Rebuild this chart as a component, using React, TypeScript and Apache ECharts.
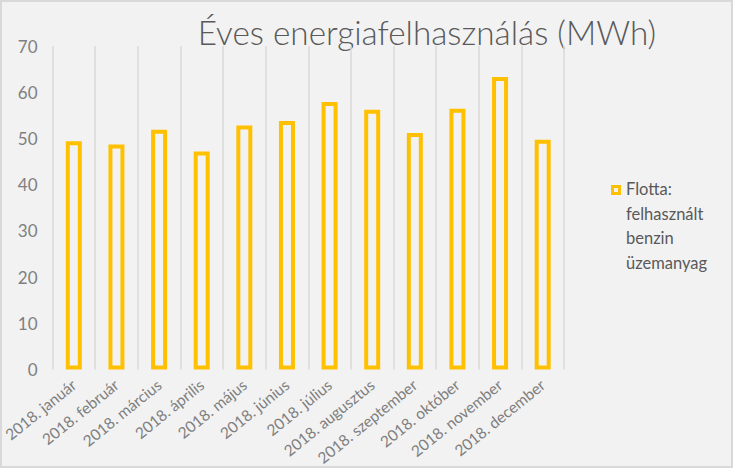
import React, { useEffect, useRef } from "react";
import * as echarts from "echarts";

const categories = [
  "2018. január",
  "2018. február",
  "2018. március",
  "2018. április",
  "2018. május",
  "2018. június",
  "2018. július",
  "2018. augusztus",
  "2018. szeptember",
  "2018. október",
  "2018. november",
  "2018. december",
];
const values = [49.4, 48.7, 51.9, 47.2, 52.8, 53.8, 57.9, 56.2, 51.2, 56.4, 63.3, 49.7];
const seriesName = "Flotta: felhasznált benzin üzemanyag";
const legendLines = ["Flotta:", "felhasznált", "benzin", "üzemanyag"];
const titleText = "Éves energiafelhasználás (MWh)";

export default function App() {
  const ref = useRef<HTMLDivElement>(null);
  useEffect(() => {
    if (!ref.current) return;
    const chart = echarts.init(ref.current, undefined, { renderer: "svg" });
    const gold = "#FFC000";
    chart.setOption({
      animation: false,
      backgroundColor: "#f2f2f2",
      textStyle: { fontFamily: "Lato" },
      grid: { left: 50, right: 169, top: 46, bottom: 97, containLabel: false },
      xAxis: {
        type: "category",
        data: categories,
        axisLine: { show: false },
        axisTick: { show: false },
        splitLine: { show: true, lineStyle: { color: "#d9d9d9", width: 1.5 } },
        axisLabel: {
          rotate: 39,
          interval: 0,
          margin: 13,
          color: "#7f7f7f",
          fontSize: 15.5,
          fontFamily: "Lato",
        },
      },
      yAxis: {
        type: "value",
        min: 0,
        max: 70,
        interval: 10,
        splitLine: { show: false },
        axisLine: { show: false },
        axisTick: { show: false },
        axisLabel: { color: "#7f7f7f", fontSize: 17, margin: 15, fontFamily: "Lato" },
      },
      series: [
        {
          name: seriesName,
          type: "bar",
          data: values,
          barWidth: 16,
          itemStyle: { color: "rgba(0,0,0,0)", borderColor: gold, borderWidth: 4 },
        },
      ],
      graphic: [
        {
          type: "rect",
          shape: { x: 1, y: 1, width: 731, height: 466 },
          style: { fill: "none", stroke: "#d9d9d9", lineWidth: 2 },
          silent: true,
        },
        {
          type: "text",
          x: 427,
          y: 15,
          style: {
            text: titleText,
            fill: "#595959",
            font: "300 33.3px Lato",
            textAlign: "center",
            textVerticalAlign: "top",
          },
        },
        {
          type: "rect",
          shape: { x: 612.5, y: 186.5, width: 7, height: 7 },
          style: { fill: "#f2f2f2", stroke: gold, lineWidth: 3 },
        },
        {
          type: "text",
          x: 626,
          y: 177,
          style: {
            text: legendLines.join("\n"),
            fill: "#595959",
            font: "16.5px Lato",
            lineHeight: 24.5,
            textAlign: "left",
            textVerticalAlign: "top",
          },
        },
      ],
    });
    return () => chart.dispose();
  }, []);
  return (
    <div
      ref={ref}
      style={{ position: "fixed", left: 0, top: 0, width: 733, height: 468 }}
    />
  );
}
